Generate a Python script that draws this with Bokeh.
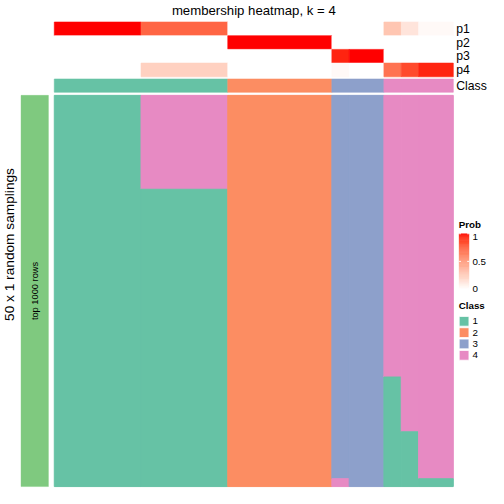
import math
from bokeh.plotting import figure
from bokeh.models import Range1d
from bokeh.core.properties import value
from bokeh.embed import file_html
from bokeh.resources import INLINE

# ---------------- data ----------------
title = "membership heatmap, k = 4"
prob_names = ["p1", "p2", "p3", "p4"]
p1 = [1, 1, 1, 1, 1, 0.76, 0.76, 0.76, 0.76, 0.76, 0, 0, 0, 0, 0, 0, 0, 0, 0, 0.30, 0.14, 0.03, 0.03]
p2 = [0, 0, 0, 0, 0, 0, 0, 0, 0, 0, 1, 1, 1, 1, 1, 1, 0, 0, 0, 0, 0, 0, 0]
p3 = [0, 0, 0, 0, 0, 0, 0, 0, 0, 0, 0, 0, 0, 0, 0, 0, 0.96, 1, 1, 0, 0, 0, 0]
p4 = [0, 0, 0, 0, 0, 0.24, 0.24, 0.24, 0.24, 0.24, 0, 0, 0, 0, 0, 0, 0.03, 0, 0, 0.70, 0.86, 0.96, 0.96]
class_labels = [1, 1, 1, 1, 1, 1, 1, 1, 1, 1, 2, 2, 2, 2, 2, 2, 3, 3, 3, 4, 4, 4, 4]
n_samplings = 50
# per column, top to bottom: (class, number of samplings)
sampling_segments = [
    [(1, 50)], [(1, 50)], [(1, 50)], [(1, 50)], [(1, 50)],
    [(4, 12), (1, 38)], [(4, 12), (1, 38)], [(4, 12), (1, 38)], [(4, 12), (1, 38)], [(4, 12), (1, 38)],
    [(2, 50)], [(2, 50)], [(2, 50)], [(2, 50)], [(2, 50)], [(2, 50)],
    [(3, 49), (4, 1)], [(3, 50)], [(3, 50)],
    [(4, 36), (1, 14)], [(4, 43), (1, 7)], [(4, 49), (1, 1)], [(4, 49), (1, 1)],
]
class_names = ["1", "2", "3", "4"]
class_palette = ["#66C2A5", "#FC8D62", "#8DA0CB", "#E78AC3"]
prob_ticks = [0, 0.5, 1]
prob_tick_labels = ["0", "0.5", "1"]
row_group_label = "top 1000 rows"
row_group_color = "#7FC97F"
left_title = "50 x 1 random samplings"

n_cols = len(class_labels)
class_color = dict(zip([1, 2, 3, 4], class_palette))


# ---------------- colour ramp white -> red in LAB ----------------
WREF = (0.95047, 1.0, 1.08883)


def _to_lin(c):
    c = c / 255.0
    return c / 12.92 if c <= 0.04045 else ((c + 0.055) / 1.055) ** 2.4


def _to_srgb(c):
    c = max(0.0, min(1.0, c))
    v = 12.92 * c if c <= 0.0031308 else 1.055 * c ** (1 / 2.4) - 0.055
    return int(round(max(0.0, min(1.0, v)) * 255))


def rgb_to_lab(rgb):
    r, g, b = [_to_lin(v) for v in rgb]
    x = 0.4124 * r + 0.3576 * g + 0.1805 * b
    y = 0.2126 * r + 0.7152 * g + 0.0722 * b
    z = 0.0193 * r + 0.1192 * g + 0.9505 * b

    def f(t):
        return t ** (1 / 3) if t > 216 / 24389 else (24389 / 27 * t + 16) / 116

    fx, fy, fz = f(x / WREF[0]), f(y / WREF[1]), f(z / WREF[2])
    return (116 * fy - 16, 500 * (fx - fy), 200 * (fy - fz))


def lab_to_hex(lab):
    L, a, b = lab
    fy = (L + 16) / 116
    fx = fy + a / 500
    fz = fy - b / 200

    def finv(t):
        return t ** 3 if t ** 3 > 216 / 24389 else (116 * t - 16) / (24389 / 27)

    x = finv(fx) * WREF[0]
    y = finv(fy) * WREF[1]
    z = finv(fz) * WREF[2]
    r = 3.2406 * x - 1.5372 * y - 0.4986 * z
    g = -0.9689 * x + 1.8758 * y + 0.0415 * z
    bb = 0.0557 * x - 0.2040 * y + 1.0570 * z
    return "#%02x%02x%02x" % (_to_srgb(r), _to_srgb(g), _to_srgb(bb))


LAB_W = rgb_to_lab((255, 255, 255))
LAB_R = rgb_to_lab((255, 0, 0))


def prob_color(v):
    return lab_to_hex(tuple(LAB_W[i] + (LAB_R[i] - LAB_W[i]) * v for i in range(3)))


def runs(seq):
    """Group consecutive equal items: yields (start, end, item)."""
    out = []
    s = 0
    for j in range(1, len(seq) + 1):
        if j == len(seq) or seq[j] != seq[s]:
            out.append((s, j, seq[s]))
            s = j
    return out


# ---------------- layout (reference px -> data units) ----------------
W = H = 488
S = 0.978
OFF, CEN = 244.5, 252.0
COLW = 17.739   # reference px per column
ROWH = 8.0      # reference px per sampling row
X0, Y0 = 57.0, 99.0
FS = S


def rx(X):
    return (X - X0) / COLW


def ry(Y):
    return (Y - Y0) / ROWH


def F(v):
    return OFF + (v - CEN) * S


xs = -F(X0) / (COLW * S)
xe = xs + W / (COLW * S)
ye = -F(Y0) / (ROWH * S)
ys = ye + H / (ROWH * S)

p = figure(width=W, height=H, x_range=Range1d(xs, xe), y_range=Range1d(ys, ye),
           output_backend="svg", toolbar_location=None, min_border=0,
           x_axis_location=None, y_axis_location=None)
p.grid.visible = False
p.outline_line_color = None
p.background_fill_color = "white"
p.border_fill_color = "white"

FONT = "Liberation Sans"
LW = 1.0


def fs(px):
    return "%.2fpx" % (px * FS)


# ---------------- probability annotation rows ----------------
probs = [p1, p2, p3, p4]
L, R, T, B, C = [], [], [], [], []
for i, row in enumerate(probs):
    for a, b, v in runs(row):
        L.append(a); R.append(b)
        T.append(ry(24 + 14 * i)); B.append(ry(38 + 14 * i))
        C.append(prob_color(v))
p.quad(left=L, right=R, top=T, bottom=B, fill_color=C, line_color=C, line_width=0.6)

# ---------------- class annotation row ----------------
L, R, C = [], [], []
for a, b, c in runs(class_labels):
    L.append(a); R.append(b); C.append(class_color[c])
p.quad(left=L, right=R, top=[ry(82.3)] * len(L), bottom=[ry(95.8)] * len(L),
       fill_color=C, line_color=C, line_width=0.6)

# ---------------- main heatmap ----------------
L, R, T, B, C = [], [], [], [], []
for a, b, segs in runs(sampling_segments):
    start = 0
    for cls, cnt in segs:
        L.append(a); R.append(b); T.append(start); B.append(start + cnt)
        C.append(class_color[cls])
        start += cnt
p.quad(left=L, right=R, top=T, bottom=B, fill_color=C, line_color=C, line_width=LW)

# row group bar
p.quad(left=[rx(23)], right=[rx(51)], top=[0], bottom=[n_samplings],
       fill_color=row_group_color, line_color=row_group_color, line_width=0.4)
p.text(x=[rx(37.5)], y=[n_samplings / 2], text=[row_group_label], angle=math.pi / 2,
       text_align="center", text_baseline="middle", text_font=value(FONT),
       text_font_size=fs(9.5), text_color="black")
p.text(x=[rx(11)], y=[ry(251.5)], text=[left_title], angle=math.pi / 2,
       text_align="center", text_baseline="middle", text_font=value(FONT),
       text_font_size=fs(14), text_color="black")

# title
p.text(x=[n_cols / 2], y=[ry(12)], text=[title], text_align="center", text_baseline="middle",
       text_font=value(FONT), text_font_size=fs(13.5), text_color="black")

# annotation names
ann_names = prob_names + ["Class"]
ann_y = [ry(31 + 14 * i) for i in range(4)] + [ry(89)]
p.text(x=[rx(468)] * 5, y=ann_y, text=ann_names, text_align="left", text_baseline="middle",
       text_font=value(FONT), text_font_size=fs(12.5), text_color="black")

# ---------------- legends ----------------
lx0, lx1 = rx(471), rx(481)
p.text(x=[rx(470.5)], y=[ry(231)], text=["Prob"], text_align="left", text_baseline="middle",
       text_font=value(FONT), text_font_size=fs(10), text_font_style="bold", text_color="black")
bar_top, bar_bot = 240.5, 297.0
nseg = 60
gl, gr, gt, gb, gc = [], [], [], [], []
for k in range(nseg):
    v0 = k / nseg
    v1 = (k + 1) / nseg
    gl.append(lx0); gr.append(lx1)
    gb.append(ry(bar_bot - v0 * (bar_bot - bar_top)))
    gt.append(ry(bar_bot - v1 * (bar_bot - bar_top)))
    gc.append(prob_color((v0 + v1) / 2))
p.quad(left=gl, right=gr, top=gt, bottom=gb, fill_color=gc, line_color=gc, line_width=0.5)
tick_y = [ry(bar_bot - t * (bar_bot - bar_top)) for t in prob_ticks]
tick_y_lbl = [ry(297), ry(269), ry(243.5)]
seg_len = 0.1
p.segment(x0=[lx0] * 3, x1=[lx0 + seg_len] * 3, y0=tick_y, y1=tick_y, line_color="white", line_width=1)
p.segment(x0=[lx1 - seg_len] * 3, x1=[lx1] * 3, y0=tick_y, y1=tick_y, line_color="white", line_width=1)
p.text(x=[rx(484.5)] * 3, y=tick_y_lbl, text=prob_tick_labels, text_align="left", text_baseline="middle",
       text_font=value(FONT), text_font_size=fs(10), text_color="black")

p.text(x=[rx(470.5)], y=[ry(314)], text=["Class"], text_align="left", text_baseline="middle",
       text_font=value(FONT), text_font_size=fs(10), text_font_style="bold", text_color="black")
pitch = 11.6
cy = [ry(330 + pitch * i) for i in range(len(class_names))]
half = 5.0 / ROWH
p.quad(left=[lx0] * 4, right=[lx1] * 4, top=[y - half for y in cy], bottom=[y + half for y in cy],
       fill_color=class_palette, line_color="white", line_width=0.8)
p.text(x=[rx(484.5)] * 4, y=cy, text=class_names, text_align="left", text_baseline="middle",
       text_font=value(FONT), text_font_size=fs(10), text_color="black")

open("out.html", "w").write(file_html(p, INLINE))
